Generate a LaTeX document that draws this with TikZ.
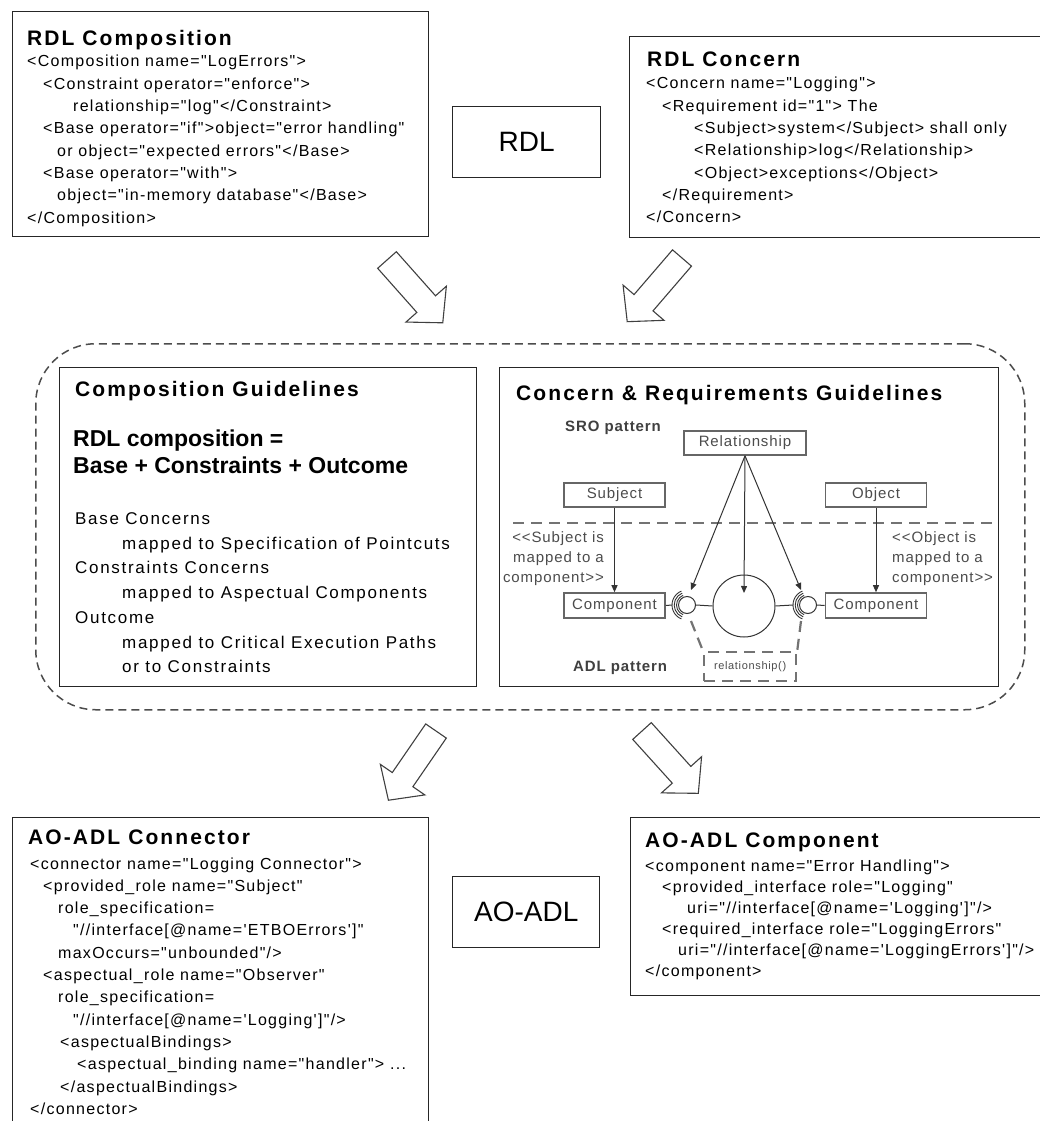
\documentclass[tikz,border=0pt]{standalone}
\usepackage{fontspec}
\usetikzlibrary{arrows.meta}
% text faces: spaced-out sans for listings and headings, plain sans for labels
\newfontfamily\bodyfont{Liberation Sans}[LetterSpace=8]
\newfontfamily\headfont{Liberation Sans}[LetterSpace=10]
\newfontfamily\guidefont{Liberation Sans}[LetterSpace=10]
\newfontfamily\plainfont{Liberation Sans}
\newfontfamily\sfont{Liberation Sans}[LetterSpace=6]

\begin{document}
\begin{tikzpicture}[x=1pt,y=-1pt,
  frame/.style={draw=black!85, line width=1.4pt, fill=white, inner sep=0pt, anchor=north west},
  body/.style={font=\bodyfont\fontsize{16}{20}\selectfont, inner sep=0pt, anchor=base west},
  head/.style={font=\headfont\bfseries\fontsize{21}{24}\selectfont, inner sep=0pt, anchor=base west},
  guide/.style={font=\guidefont\fontsize{17}{20}\selectfont, inner sep=0pt, anchor=base west},
  formula/.style={font=\plainfont\bfseries\fontsize{23}{26}\selectfont, inner sep=0pt, anchor=base west},
  biglabel/.style={font=\plainfont\fontsize{28}{30}\selectfont},
  srotext/.style={font=\sfont\fontsize{15}{18}\selectfont, text=black!70, inner sep=0pt},
  srobold/.style={font=\sfont\bfseries\fontsize{15}{18}\selectfont, text=black!75, inner sep=0pt},
  srobox/.style={srotext, draw=black!60, line width=1.6pt, fill=white, minimum height=24pt, minimum width=101pt},
  sroline/.style={draw=black!80, line width=1pt},
  sroarrow/.style={sroline, -{Triangle[length=7pt,width=6pt]}},
  ball/.style={circle, draw=black!80, line width=1pt, fill=white, inner sep=0pt},
  graydash/.style={draw=black!55, line width=2.2pt, dash pattern=on 11pt off 7pt},
  group/.style={draw=black!70, line width=1.5pt, dash pattern=on 8pt off 5pt, rounded corners=60pt, inner sep=0pt, anchor=north west},
  pics/blockarrow/.style={code={
    \draw[draw=black!75, line width=1.1pt, fill=white, line join=miter]
      (0,-12.5) -- (59,-12.5) -- (59,-27) -- (84,0) -- (59,27) -- (59,12.5) -- (0,12.5) -- cycle;}}
]
\useasboundingbox (0,0) rectangle (1039,1121);

% ---------------- RDL level ----------------
\node[frame, minimum width=416pt, minimum height=225pt] (rdlcomp) at (12,11) {};
\node[head] (rdlcompT) at (27,46) {RDL Composition};
\node[body] (rc1) at (27,67)    {<Composition name="LogErrors">};
\node[body] (rc2) at (43,89.3)  {<Constraint operator="enforce">};
\node[body] (rc3) at (73,111.6) {relationship="log"</Constraint>};
\node[body] (rc4) at (43,133.9) {<Base operator="if">object="error handling"};
\node[body] (rc5) at (57,156.2) {or object="expected errors"</Base>};
\node[body] (rc6) at (43,178.5) {<Base operator="with">};
\node[body] (rc7) at (57,200.8) {object="in-memory database"</Base>};
\node[body] (rc8) at (27,223.1) {</Composition>};

\node[frame, biglabel, minimum width=148pt, minimum height=71pt] (rdlbox) at (452,106) {RDL};

\node[frame, minimum width=420pt, minimum height=201pt] (rdlconc) at (629,36) {};
\node[head] (rdlconcT) at (647,67) {RDL Concern};
\node[body] (cc1) at (646,89)    {<Concern name="Logging">};
\node[body] (cc2) at (662,111.3) {<Requirement id="1"> The};
\node[body] (cc3) at (694,133.6) {<Subject>system</Subject> shall only};
\node[body] (cc4) at (694,155.9) {<Relationship>log</Relationship>};
\node[body] (cc5) at (694,178.2) {<Object>exceptions</Object>};
\node[body] (cc6) at (662,200.5) {</Requirement>};
\node[body] (cc7) at (646,222.8) {</Concern>};

\pic[rotate=-48.4] (arrTL) at (387,260) {blockarrow};
\pic[rotate=-130.7] (arrTR) at (682,258) {blockarrow};

% ---------------- guidelines ----------------
\node[group, minimum width=989pt, minimum height=366pt] (guides) at (35,343) {};

\node[frame, minimum width=417pt, minimum height=319pt] (compg) at (59,367) {};
\node[head] (compgT) at (75,396) {Composition Guidelines};
\node[formula] (f1) at (73,446) {RDL composition =};
\node[formula] (f2) at (73,473) {Base + Constraints + Outcome};
\node[guide] (g1) at (75,524.5)  {Base Concerns};
\node[guide] (g2) at (122,549.2) {mapped to Specification of Pointcuts};
\node[guide] (g3) at (75,573.9)  {Constraints Concerns};
\node[guide] (g4) at (122,598.6) {mapped to Aspectual Components};
\node[guide] (g5) at (75,623.3)  {Outcome};
\node[guide] (g6) at (122,648)   {mapped to Critical Execution Paths};
\node[guide] (g7) at (122,672.7) {or to Constraints};

\node[frame, minimum width=499pt, minimum height=319pt] (concg) at (499,367) {};
\node[head] (concgT) at (516,400) {Concern \& Requirements Guidelines};

% SRO pattern
\node[srobold, anchor=west] (sroT) at (565,428) {SRO pattern};
\node[srobox, minimum width=122pt] (rel) at (745,443) {Relationship};
\node[srobox] (subj) at (614.5,495) {Subject};
\node[srobox] (obj) at (876,495) {Object};

\coordinate (splitL) at (513,523);
\coordinate (splitR) at (998,523);
\draw[graydash] (splitL) -- (splitR);

\node[srotext, anchor=base east] (sa1) at (604,542.5) {<<Subject is};
\node[srotext, anchor=base east] (sa2) at (604,562.5) {mapped to a};
\node[srotext, anchor=base east] (sa3) at (604,582.5) {component>>};
\node[srotext, anchor=base west] (oa1) at (892,542.5) {<<Object is};
\node[srotext, anchor=base west] (oa2) at (892,562.5) {mapped to a};
\node[srotext, anchor=base west] (oa3) at (892,582.5) {component>>};

% ADL pattern
\node[srobox, minimum height=25pt] (compL) at (614.5,605.5) {Component};
\node[srobox, minimum height=25pt] (compR) at (876,605.5) {Component};
\node[ball, minimum size=62pt] (core) at (744,606) {};
\node[ball, minimum size=17pt] (ballL) at (687,605) {};
\node[ball, minimum size=17pt] (ballR) at (808,605) {};

% sockets: concentric arcs wrapped round each ball
\foreach \b in {ballL,ballR}{
  \foreach \r in {10.5,12.8,15}{
    \draw[draw=black!80, line width=0.9pt] (\b.center) ++(112:\r) arc[start angle=112, end angle=248, radius=\r];
  }
}
\coordinate (sockLw) at (672,605);
\coordinate (sockRw) at (793,605);
\draw[sroline] (compL.east) -- (sockLw);
\draw[sroline] (ballL.east) -- (core.west);
\draw[sroline] (core.east) -- (sockRw);
\draw[sroline] (ballR.east) -- (compR.west);

\draw[sroarrow] (subj.south) -- (compL.north);
\draw[sroarrow] (obj.south) -- (compR.north);
\coordinate (tipL) at (691,590);
\coordinate (tipC) at (744,593);
\coordinate (tipR) at (801,590);
\draw[sroarrow] (rel.south) -- (tipL);
\draw[sroarrow] (rel.south) -- (tipC);
\draw[sroarrow] (rel.south) -- (tipR);

\node[graydash, anchor=north west, minimum width=92pt, minimum height=29pt, inner sep=0pt,
      font=\sfont\fontsize{11}{13}\selectfont, text=black!70] (relop) at (703,651) {relationship()};
\coordinate (sockLs) at (691,621);
\coordinate (sockRs) at (801,621);
\draw[graydash] (sockLs) -- (relop.north west);
\draw[graydash] (sockRs) -- (relop.north east);
\node[srobold, anchor=west] (adlT) at (573,668) {ADL pattern};

\pic[rotate=-124.5] (arrBL) at (436,731) {blockarrow};
\pic[rotate=-47.9] (arrBR) at (642,731) {blockarrow};

% ---------------- AO-ADL level ----------------
\node[frame, minimum width=416pt, minimum height=320pt] (conn) at (12,817) {};
\node[head] (connT) at (28,844.5) {AO-ADL Connector};
\node[body] (k1)  at (30,869)    {<connector name="Logging Connector">};
\node[body] (k2)  at (43,891.3)  {<provided\_role name="Subject"};
\node[body] (k3)  at (58,913.6)  {role\_specification=};
\node[body] (k4)  at (73,935.9)  {"//interface[@name='ETBOErrors']"};
\node[body] (k5)  at (58,958.2)  {maxOccurs="unbounded"/>};
\node[body] (k6)  at (43,980.5)  {<aspectual\_role name="Observer"};
\node[body] (k7)  at (58,1002.8) {role\_specification=};
\node[body] (k8)  at (73,1025.1) {"//interface[@name='Logging']"/>};
\node[body] (k9)  at (60,1047.4) {<aspectualBindings>};
\node[body] (k10) at (77,1069.7) {<aspectual\_binding name="handler"> ...};
\node[body] (k11) at (60,1092)   {</aspectualBindings>};
\node[body] (k12) at (30,1114.3) {</connector>};

\node[frame, biglabel, minimum width=147pt, minimum height=71pt] (aoadl) at (452,876) {AO-ADL};

\node[frame, minimum width=420pt, minimum height=178pt] (comp) at (630,817) {};
\node[head] (compT) at (645,847.5) {AO-ADL Component};
\node[body] (m1) at (645,871) {<component name="Error Handling">};
\node[body] (m2) at (662,892) {<provided\_interface role="Logging"};
\node[body] (m3) at (687,913) {uri="//interface[@name='Logging']"/>};
\node[body] (m4) at (662,934) {<required\_interface role="LoggingErrors"};
\node[body] (m5) at (678,955) {uri="//interface[@name='LoggingErrors']"/>};
\node[body] (m6) at (645,976) {</component>};
\end{tikzpicture}
\end{document}
